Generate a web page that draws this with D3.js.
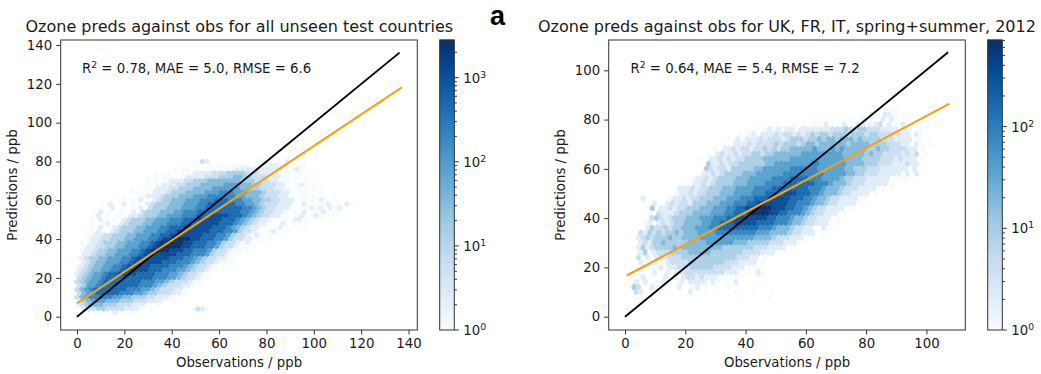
<!DOCTYPE html>
<html><head><meta charset="utf-8">
<script src="https://cdn.jsdelivr.net/npm/d3@7"></script>
<style>
html,body{margin:0;padding:0;background:#fff}
svg{display:block}
text{font-family:"DejaVu Sans",sans-serif;fill:#1a1a1a}
</style></head><body>
<svg id="c" width="1041" height="374"></svg>
<script>
// Density tables: each string is a row of hexagons, the top row first.
// Each character is a step on the log colour axis (0..9); "." means an empty bin.
const leftTitle = "Ozone preds against obs for all unseen test countries";
const rightTitle = "Ozone preds against obs for UK, FR, IT, spring+summer, 2012";
const leftStats = [" = 0.78, MAE = 5.0, RMSE = 6.6"];
const rightStats = [" = 0.64, MAE = 5.4, RMSE = 7.2"];
const leftXTicks = [0,20,40,60,80,100,120,140];
const leftYTicks = [0,20,40,60,80,100,120,140];
const rightXTicks = [0,20,40,60,80,100];
const rightYTicks = [0,20,40,60,80,100];
const leftCountMax = 2800;
const rightCountMax = 710;
const leftBlack = [[0,0],[136.2,136.1]];
const leftOrange = [[0,6.9],[137.2,118.2]];
const rightBlack = [[0,0],[107.2,107.3]];
const rightOrange = [[0.6,16.7],[107.7,86.5]];
const leftTopRow = 82, rightTopRow = 84;
const leftColStep = 2, rightColStep = 1.5;
const e = n => ".".repeat(n);
const leftRows = [
"......................................0.00",
"..........................21..........0.0.00100",
".......................0.0..0.0.00000.00011010.00",
"....................0.00.0.00.00011111111110.010.0",
".................0.0.00001111222333322211110.0.0",
"................0.00.001111222333443322211100.0.0",
"...............0.0.011122333444444433322211"+"00.0.00",
"..............0.0011122333444445554443322211"+"0.010.0",
"............0..00111223334444555555443322211"+"00.00.0",
"...........0.00.11123334444555666555444322211"+"0.00..0",
"..........0..00111233344455566666655444322211"+"00.0.0.0",
".........0.00"+"10.1233"+"44455566677766655443322111"+".0.0.10.0",
".......1..1.00.1233"+"344455566777777665543222111"+"0.1.00.100.10",
".....0.1.0.0.10233"+"344455566777777776654322111"+"0.0.101.101",
"....01.0.00.10233"+"344455666777777777665432211"+"0.0.1.001.00",
"....1.0.00.11233"+"344555666777888877765432211"+"00.01.010.00",
"...0.10.0.12333"+"44555666777888887776543211"+"00.0.110",
"...0.010.12333"+"44555666777888887776543211"+"0..1.00.0",
"...0.1.012333"+"44555667778888887776543211"+"00.010.0",
"...010.12333"+"44555667788888887776653221"+"0.010.0",
"..00112233344555667788888887776653221"+"010.0.0",
"..0112233344555667889999887776653221"+"1.0.0",
".0.11233344555667899999887776653221"+"010.0",
".011223344555667899999887776653221"+"00.0",
".01123344555667899998887766653221"+"00.0",
".1123344555667888888877766653221"+"000",
".123344555667888888877766543221"+"100",
".12344555667888888777666543221"+"000",
"01234455667888887777666543221"+"0.0",
"1234455667888887776665543221"+"000",
"123455677888877776665543221"+"00",
"23455677777777776665543221"+"00",
"2345567777777766655432221"+"00",
"235567777777766654322211"+"0.0",
"24567777777666554322211"+"00",
"245677777666554332221100",
"2456666655443332211100",
"134555444333222111"+"0.0",
"0234443332221110.0",
".1223322221110.0.........21",
"....00.010.0."
];
const rightRows = [
e(56)+"0..00",
e(52)+"0.10.110.0",
e(42)+"0.0.0.0.0.0100.1.10.0",
e(37)+"0.0.00.10.01.0110012010.1",
e(27)+"0.0.0"+"1010110111111"+"1222322332221"+"111.10.0",
e(25)+"0.0"+"1011121221212"+"3233233323332332"+"22121"+"1.10",
e(23)+"0."+"101112122212"+"333233"+"4344344434"+"33332"+"22111"+"1.0",
e(22)+"0."+"111212222"+"3233323"+"44344444434444"+"3333"+"22211"+".10.0",
e(20)+"0."+"112122122"+"323233"+"44444544454544444"+"33433"+"22221"+"1.0",
e(18)+"0."+"12112122"+"33233"+"444444"+"555555555"+"44444"+"3433"+"22221212"+".0",
e(17)+"0."+"11212122"+"3333"+"444444"+"555555555555"+"4444"+"3333"+"22212111"+".0",
e(18)+"3"+"112122"+"333333"+"44"+"5555555566555555"+"4444"+"333"+"222111211",
e(18)+"3"+"21221"+"33333"+"44"+"555555"+"666666"+"555555"+"44"+"333"+"222111"+"111.1",
e(17)+"11212"+"3333"+"444"+"555555"+"666666666"+"55555"+"44"+"33"+"22211111"+".1.1",
e(15)+"0"+"11212"+"3333"+"444"+"55555"+"6666"+"7777"+"666"+"5555"+"4"+"33"+"2221111"+"1.0.0",
e(13)+"0."+"11212"+"3333"+"444"+"5555"+"6666"+"7777777"+"666"+"5"+"444"+"3"+"222111"+"11.0",
e(12)+"1"+"112122"+"333"+"444"+"5555"+"6666"+"77777777"+"666"+"5"+"444"+"3"+"22211"+"11.0.0",
e(11)+"0"+"112122"+"333"+"444"+"5555"+"666"+"7777"+"888"+"777"+"66"+"5"+"444"+"3"+"2211"+"11.0",
"....1.....0"+"112122"+"333"+"444"+"555"+"666"+"777"+"88888"+"777"+"66"+"5"+"44"+"3"+"2211"+"11.0",
"......1.."+"121221"+"333"+"444"+"555"+"666"+"77"+"8888888"+"77"+"666"+"5"+"44"+"3"+"2211"+"11.0",
"......3."+"112122"+"333"+"444"+"555"+"66"+"77"+"88"+"9999"+"888"+"77"+"66"+"5"+"4"+"3"+"2211"+"11.0",
".....0."+"21112"+"333"+"4444"+"555"+"66"+"777"+"8"+"9999"+"88"+"77"+"666"+"5"+"4"+"3"+"2211"+"1.0",
"......23"+"212"+"333"+"444"+"555"+"666"+"77"+"8888888"+"77"+"666"+"5"+"44"+"3"+"2211"+"1.0",
"....0"+"1.1212"+"33"+"4444"+"55"+"66"+"777"+"88888"+"7777"+"666"+"5"+"44"+"3"+"2211"+"10.0",
"....."+"1322"+"3233"+"444"+"555"+"66"+"777777777"+"666"+"5"+"444"+"3"+"2211"+"..1.0",
"...2"+"13232"+"3343"+"444"+"5555"+"666666666"+"555"+"4444"+"3"+"2211"+"1.0",
"..."+"12323"+"33433"+"4444"+"555555555555"+"4444"+"3"+"22211"+"10",
"..."+"121"+"33433333"+"4444"+"555555"+"444"+"3333"+"3"+"22211"+"10",
"..."+"1312"+"333343"+"444444444"+"3333333"+"22211"+"11"+".0",
"..."+"130122"+"23333"+"44444"+"3333333"+"2222"+"11"+"1.0",
"..."+"2.1.121222"+"333333333333"+"222"+"11"+".0",
"...1.01..1"+"2222"+"33333333"+"222"+"1111"+".0",
"....1.0.1.1"+"1222"+"33333"+"2222"+"111"+"0.0",
"...0..1..1.1"+"1222222222"+"1110.0.1",
"....1.0..1.1.1221211100..0",
"..1.1.0.1...1.1111.10.0.1",
"..32..1.....1..01.0.0..0",
"..21....0.....1.........0...0...0",
"..........................0.....0"
];
const blues = ["#f7fbff","#deebf7","#c6dbef","#9ecae1","#6baed6","#4292c6","#2171b5","#08519c","#08306b"];
const minorMult = [2,3,4,5,6,7,8,9];

const svg = d3.select("#c");
const defs = svg.append("defs");
defs.append("filter").attr("id","soft").attr("x","-5%").attr("y","-5%").attr("width","110%").attr("height","110%")
  .append("feGaussianBlur").attr("stdDeviation",0.6);
const ramp = d3.scaleLinear().domain(blues.map((_,i)=>i/(blues.length-1))).range(blues).interpolate(d3.interpolateRgb);

function panel(o){
  const g = svg.append("g");
  const x = d3.scaleLinear().domain(o.xDomain).range([o.x0,o.x1]);
  const y = d3.scaleLinear().domain(o.yDomain).range([o.y1,o.y0]);
  const cScale = d3.scaleLog().domain([1,o.vmax]).range([0,1]);
  const clipId = "clip"+o.id;
  defs.append("clipPath").attr("id",clipId).append("rect")
    .attr("x",o.x0).attr("y",o.y0).attr("width",o.x1-o.x0).attr("height",o.y1-o.y0);

  const cells=[];
  o.rows.forEach((row,r)=>{
    const py=o.topRow-2*r;
    [...row].forEach((ch,i)=>{
      if(ch===".")return;
      const px=o.step*i+(r%2?o.step/2:0);
      cells.push({px,py,count:Math.pow(o.vmax,(+ch)/9)});
    });
  });
  const hw=o.step/2, tall=4/3, side=2/3;
  const dens=g.append("g").attr("clip-path",`url(#${clipId})`).append("g").attr("filter","url(#soft)");
  dens.selectAll("polygon").data(cells).join("polygon")
    .attr("points",d=>[[0,tall],[hw,side],[hw,-side],[0,-tall],[-hw,-side],[-hw,side]]
      .map(v=>[x(d.px+v[0]).toFixed(2),y(d.py+v[1]).toFixed(2)].join(",")).join(" "))
    .attr("fill",d=>ramp(cScale(d.count)))
    .attr("stroke",d=>ramp(cScale(d.count))).attr("stroke-width",0.5);

  const line=d3.line().x(d=>x(d[0])).y(d=>y(d[1]));
  g.append("path").attr("d",line(o.black)).attr("fill","none").attr("stroke","#000").attr("stroke-width",1.9);
  g.append("path").attr("d",line(o.orange)).attr("fill","none").attr("stroke","#f5a00f").attr("stroke-width",2.1);

  g.append("rect").attr("x",o.x0).attr("y",o.y0).attr("width",o.x1-o.x0).attr("height",o.y1-o.y0)
    .attr("fill","none").attr("stroke","#333").attr("stroke-width",1);

  const ax=g.append("g").attr("transform",`translate(0,${o.y1})`)
    .call(d3.axisBottom(x).tickValues(o.xTicks).tickSize(4.5).tickPadding(4));
  const ay=g.append("g").attr("transform",`translate(${o.x0},0)`)
    .call(d3.axisLeft(y).tickValues(o.yTicks).tickSize(4.5).tickPadding(4));
  [ax,ay].forEach(a=>{
    a.select(".domain").remove();
    a.selectAll("line").attr("stroke","#333");
    a.selectAll("text").style("font-size","13.3px").style("font-family",'"DejaVu Sans"').attr("fill","#1a1a1a");
  });

  g.append("text").attr("x",o.titleX).attr("y",32).attr("font-size",o.titleSize).text(o.title);
  g.append("text").attr("x",(o.x0+o.x1)/2).attr("y",367).attr("text-anchor","middle").attr("font-size",13.3).text("Observations / ppb");
  g.append("text").attr("transform",`translate(${o.x0-43.5},${(o.y0+o.y1)/2}) rotate(-90)`).attr("text-anchor","middle").attr("font-size",13.3).text("Predictions / ppb");

  const st=g.append("text").attr("x",x(o.statX)).attr("y",73).attr("font-size",13.3);
  st.append("tspan").text("R");
  st.append("tspan").attr("dy",-5).attr("font-size",9.3).text("2");
  st.append("tspan").attr("dy",5).text(o.stats[0]);

  // colour bar
  const cy=d3.scaleLog().domain([1,o.vmax]).range([o.y1,o.y0]);
  const bar=g.append("g");
  const steps=d3.range(0,290);
  bar.selectAll("rect").data(steps).join("rect")
    .attr("x",o.cx0).attr("width",o.cx1-o.cx0)
    .attr("y",d=>o.y1-d-1.4).attr("height",1.6)
    .attr("fill",d=>ramp(d/289));
  bar.append("rect").attr("x",o.cx0).attr("y",o.y0).attr("width",o.cx1-o.cx0).attr("height",o.y1-o.y0)
    .attr("fill","none").attr("stroke","#333").attr("stroke-width",1);
  const maxExp=Math.floor(Math.log10(o.vmax));
  const majors=d3.range(0,maxExp+1).map(k=>Math.pow(10,k));
  const minors=[];
  majors.forEach(m=>minorMult.forEach(k=>{if(m*k<=o.vmax)minors.push(m*k);}));
  bar.selectAll("line.mi").data(minors).join("line").attr("class","mi")
    .attr("x1",o.cx1).attr("x2",o.cx1+2.6).attr("y1",d=>cy(d)).attr("y2",d=>cy(d)).attr("stroke","#333");
  bar.selectAll("line.ma").data(majors).join("line").attr("class","ma")
    .attr("x1",o.cx1).attr("x2",o.cx1+4.5).attr("y1",d=>cy(d)).attr("y2",d=>cy(d)).attr("stroke","#333");
  majors.forEach((m,k)=>{
    const t=bar.append("text").attr("x",o.cx1+9).attr("y",cy(m)+5).attr("font-size",13.3);
    t.append("tspan").text("10");
    t.append("tspan").attr("dy",-5).attr("font-size",9.3).text(k);
  });
}

panel({id:"L",x0:60.7,x1:417.3,y0:40,y1:330,cx0:439.7,cx1:454.3,
  xDomain:[-6.88,143.7],yDomain:[-6.85,142.6],vmax:leftCountMax,rows:leftRows,topRow:leftTopRow,step:leftColStep,
  xTicks:leftXTicks,yTicks:leftYTicks,black:leftBlack,orange:leftOrange,title:leftTitle,titleX:25.5,titleSize:16,stats:leftStats,statX:2.1,
  });
panel({id:"R",x0:608.7,x1:965.3,y0:40,y1:330,cx0:987.7,cx1:1002.3,
  xDomain:[-5.41,112.9],yDomain:[-5.4,112.3],vmax:rightCountMax,rows:rightRows,topRow:rightTopRow,step:rightColStep,
  xTicks:rightXTicks,yTicks:rightYTicks,black:rightBlack,orange:rightOrange,title:rightTitle,titleX:538,titleSize:16,stats:rightStats,statX:1.8,
  });
svg.append("text").attr("x",490).attr("y",25).attr("font-size",27).attr("font-weight","bold").style("font-family",'"Liberation Sans"').style("fill","#000").text("a");
</script>
</body></html>
